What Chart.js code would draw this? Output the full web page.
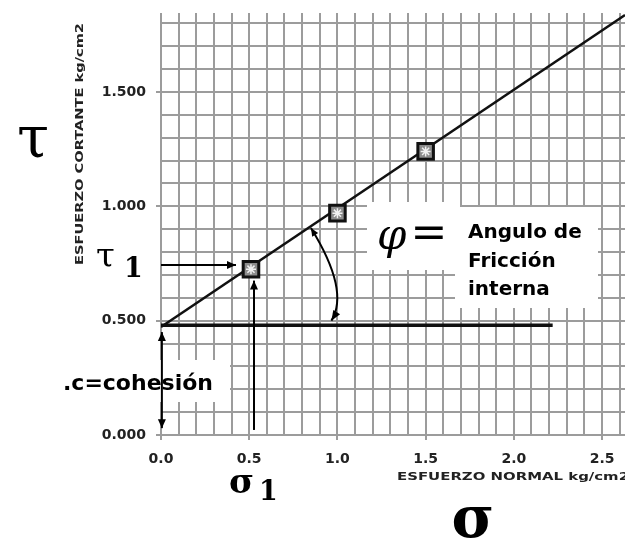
<!DOCTYPE html>
<html>
<head>
<meta charset="utf-8">
<title>Envolvente de falla</title>
<script src="https://cdn.jsdelivr.net/npm/chart.js@4.4.1/dist/chart.umd.min.js"></script>
<style>
  body { margin: 0; background: #fff; }
  #chart { display: block; }
</style>
</head>
<body>
<canvas id="chart" width="625" height="540"></canvas>
<script>
// valores (kg/cm2)
const sigma = [0.51, 1.0, 1.5];
const tau = [0.725, 0.97, 1.24];
const envX = [0, 2.63];
const envY = [0.472, 1.836];
const cohX = [0, 2.22];
const cohY = [0.48, 0.48];
const xTickLabels = ['0.0', '0.5', '1.0', '1.5', '2.0', '2.5'];
const yTickLabels = ['0.000', '0.500', '1.000', '1.500'];

const pts = (xs, ys) => xs.map((x, i) => ({ x: x, y: ys[i] }));
const isMajor = v => Math.abs(v * 2 - Math.round(v * 2)) < 1e-6;
const tickText = (labels) => (v) => isMajor(v) ? (labels[Math.round(v * 2)] || '') : '';

function arrowHead(ctx, x1, y1, x2, y2, len, wid) {
  const a = Math.atan2(y2 - y1, x2 - x1);
  ctx.save();
  ctx.translate(x2, y2);
  ctx.rotate(a);
  ctx.beginPath();
  ctx.moveTo(0, 0);
  ctx.lineTo(-len, -wid / 2);
  ctx.lineTo(-len, wid / 2);
  ctx.closePath();
  ctx.fill();
  ctx.restore();
}

function arrow(ctx, x1, y1, x2, y2, both) {
  ctx.beginPath();
  ctx.moveTo(x1, y1);
  ctx.lineTo(x2, y2);
  ctx.stroke();
  arrowHead(ctx, x1, y1, x2, y2, 9, 8);
  if (both) arrowHead(ctx, x2, y2, x1, y1, 9, 8);
}

// texto estirado horizontalmente hasta un ancho dado
function stretchText(ctx, str, x, y, w, font, angle) {
  ctx.save();
  ctx.font = font;
  const k = w / ctx.measureText(str).width;
  ctx.translate(x, y);
  ctx.rotate(angle);
  ctx.scale(k, 1);
  ctx.textAlign = 'center';
  ctx.textBaseline = 'middle';
  ctx.fillText(str, 0, 0);
  ctx.restore();
}

function txt(ctx, str, x, y, font, align) {
  ctx.font = font;
  ctx.textAlign = align || 'left';
  ctx.textBaseline = 'alphabetic';
  ctx.fillText(str, x, y);
}

const notes = {
  id: 'notes',
  beforeDatasetsDraw(chart) {
    const ctx = chart.ctx;
    ctx.save();
    ctx.fillStyle = '#fff';
    ctx.fillRect(367, 202, 93, 68);
    ctx.fillRect(455, 207, 143, 101);
    ctx.fillRect(60, 360, 170, 42);
    ctx.restore();
  },
  afterDatasetsDraw(chart) {
    const ctx = chart.ctx;
    const sx = chart.scales.x, sy = chart.scales.y;
    const px = v => sx.getPixelForValue(v);
    const py = v => sy.getPixelForValue(v);
    ctx.save();
    ctx.strokeStyle = '#000';
    ctx.fillStyle = '#000';
    ctx.lineWidth = 2;

    // flechas tau1, sigma1 y cohesion
    arrow(ctx, px(0), py(tau[0] + 0.018), px(sigma[0] - 0.085), py(tau[0] + 0.018));
    arrow(ctx, px(sigma[0] + 0.017), py(0.022), px(sigma[0] + 0.017), py(tau[0] - 0.05));
    arrow(ctx, px(0.005), py(0.03), px(0.005), py(cohY[0] - 0.03), true);

    // arco del angulo de friccion
    const p0 = [px(0.85), py(0.905)], p1 = [px(1.07), py(0.63)], p2 = [px(0.966), py(0.5)];
    ctx.beginPath();
    ctx.moveTo(p0[0], p0[1]);
    ctx.quadraticCurveTo(p1[0], p1[1], p2[0], p2[1]);
    ctx.stroke();
    arrowHead(ctx, p1[0], p1[1], p2[0], p2[1], 10, 8);
    arrowHead(ctx, p1[0], p1[1], p0[0], p0[1], 8, 7);

    // titulos de ejes
    ctx.fillStyle = '#222';
    stretchText(ctx, 'ESFUERZO CORTANTE kg/cm2', 80, 144, 242, 'bold 11px "DejaVu Sans"', -Math.PI / 2);
    stretchText(ctx, 'ESFUERZO NORMAL kg/cm2', 513, 477, 232, 'bold 11px "DejaVu Sans"', 0);

    // simbolos y rotulos
    ctx.fillStyle = '#000';
    txt(ctx, 'τ', 33, 157, '58px "DejaVu Serif"', 'center');
    txt(ctx, 'τ', 96, 267, '34px "DejaVu Serif"');
    txt(ctx, '1', 124, 277, 'bold 27px "DejaVu Serif"');
    txt(ctx, 'σ', 229, 493, 'bold 34px "DejaVu Serif"');
    txt(ctx, '1', 259, 500, 'bold 27px "DejaVu Serif"');
    txt(ctx, 'σ', 473, 537, 'bold 58px "DejaVu Serif"', 'center');
    txt(ctx, 'φ', 377, 249, 'italic 42px "DejaVu Serif"');
    txt(ctx, '=', 429, 247, '44px "DejaVu Serif"', 'center');
    txt(ctx, 'Angulo de', 468, 238, 'bold 20px "DejaVu Sans"');
    txt(ctx, 'Fricción', 468, 267, 'bold 20px "DejaVu Sans"');
    txt(ctx, 'interna', 468, 295, 'bold 20px "DejaVu Sans"');
    txt(ctx, '.c=cohesión', 63, 390, 'bold 22px "DejaVu Sans"');
    ctx.restore();
  }
};

const gridOpts = {
  color: '#9c9c9c',
  lineWidth: 2,
  tickLength: 5,
  tickColor: c => (c.tick && isMajor(c.tick.value)) ? '#9c9c9c' : 'rgba(0,0,0,0)'
};
const tickFont = { family: '"DejaVu Sans"', size: 14, weight: 'bold' };

new Chart(document.getElementById('chart'), {
  type: 'scatter',
  data: {
    datasets: [
      {
        label: 'marca',
        data: pts(sigma, tau),
        pointStyle: 'star',
        pointRadius: 5,
        borderColor: '#f2f2f2',
        borderWidth: 1.5,
        order: 0
      },
      {
        label: 'ensayos',
        data: pts(sigma, tau),
        pointStyle: 'rect',
        pointRadius: 11,
        backgroundColor: '#8c8c8c',
        borderColor: '#111',
        borderWidth: 3,
        order: 1
      },
      {
        label: 'envolvente',
        data: pts(envX, envY),
        showLine: true,
        borderColor: '#111',
        borderWidth: 2.5,
        pointRadius: 0,
        order: 2
      },
      {
        label: 'cohesion',
        data: pts(cohX, cohY),
        showLine: true,
        borderColor: '#111',
        borderWidth: 3.5,
        pointRadius: 0,
        order: 3
      }
    ]
  },
  options: {
    responsive: false,
    animation: false,
    layout: { autoPadding: false, padding: { top: 13, right: 0, bottom: 0, left: 0 } },
    plugins: { legend: { display: false }, tooltip: { enabled: false } },
    scales: {
      x: {
        type: 'linear',
        min: 0,
        max: 2.63,
        border: { display: false },
        grid: gridOpts,
        afterFit: s => { s.height = 105; s.paddingLeft = 0; s.paddingRight = 0; },
        ticks: {
          stepSize: 0.1,
          includeBounds: false,
          autoSkip: false,
          maxRotation: 0,
          padding: 11,
          color: '#222',
          font: tickFont,
          callback: tickText(xTickLabels)
        }
      },
      y: {
        type: 'linear',
        min: 0,
        max: 1.845,
        border: { display: false },
        grid: gridOpts,
        afterFit: s => { s.width = 161; s.paddingTop = 0; s.paddingBottom = 0; },
        ticks: {
          stepSize: 0.1,
          includeBounds: false,
          autoSkip: false,
          padding: 10,
          color: '#222',
          font: tickFont,
          callback: tickText(yTickLabels)
        }
      }
    }
  },
  plugins: [notes]
});
</script>
</body>
</html>
